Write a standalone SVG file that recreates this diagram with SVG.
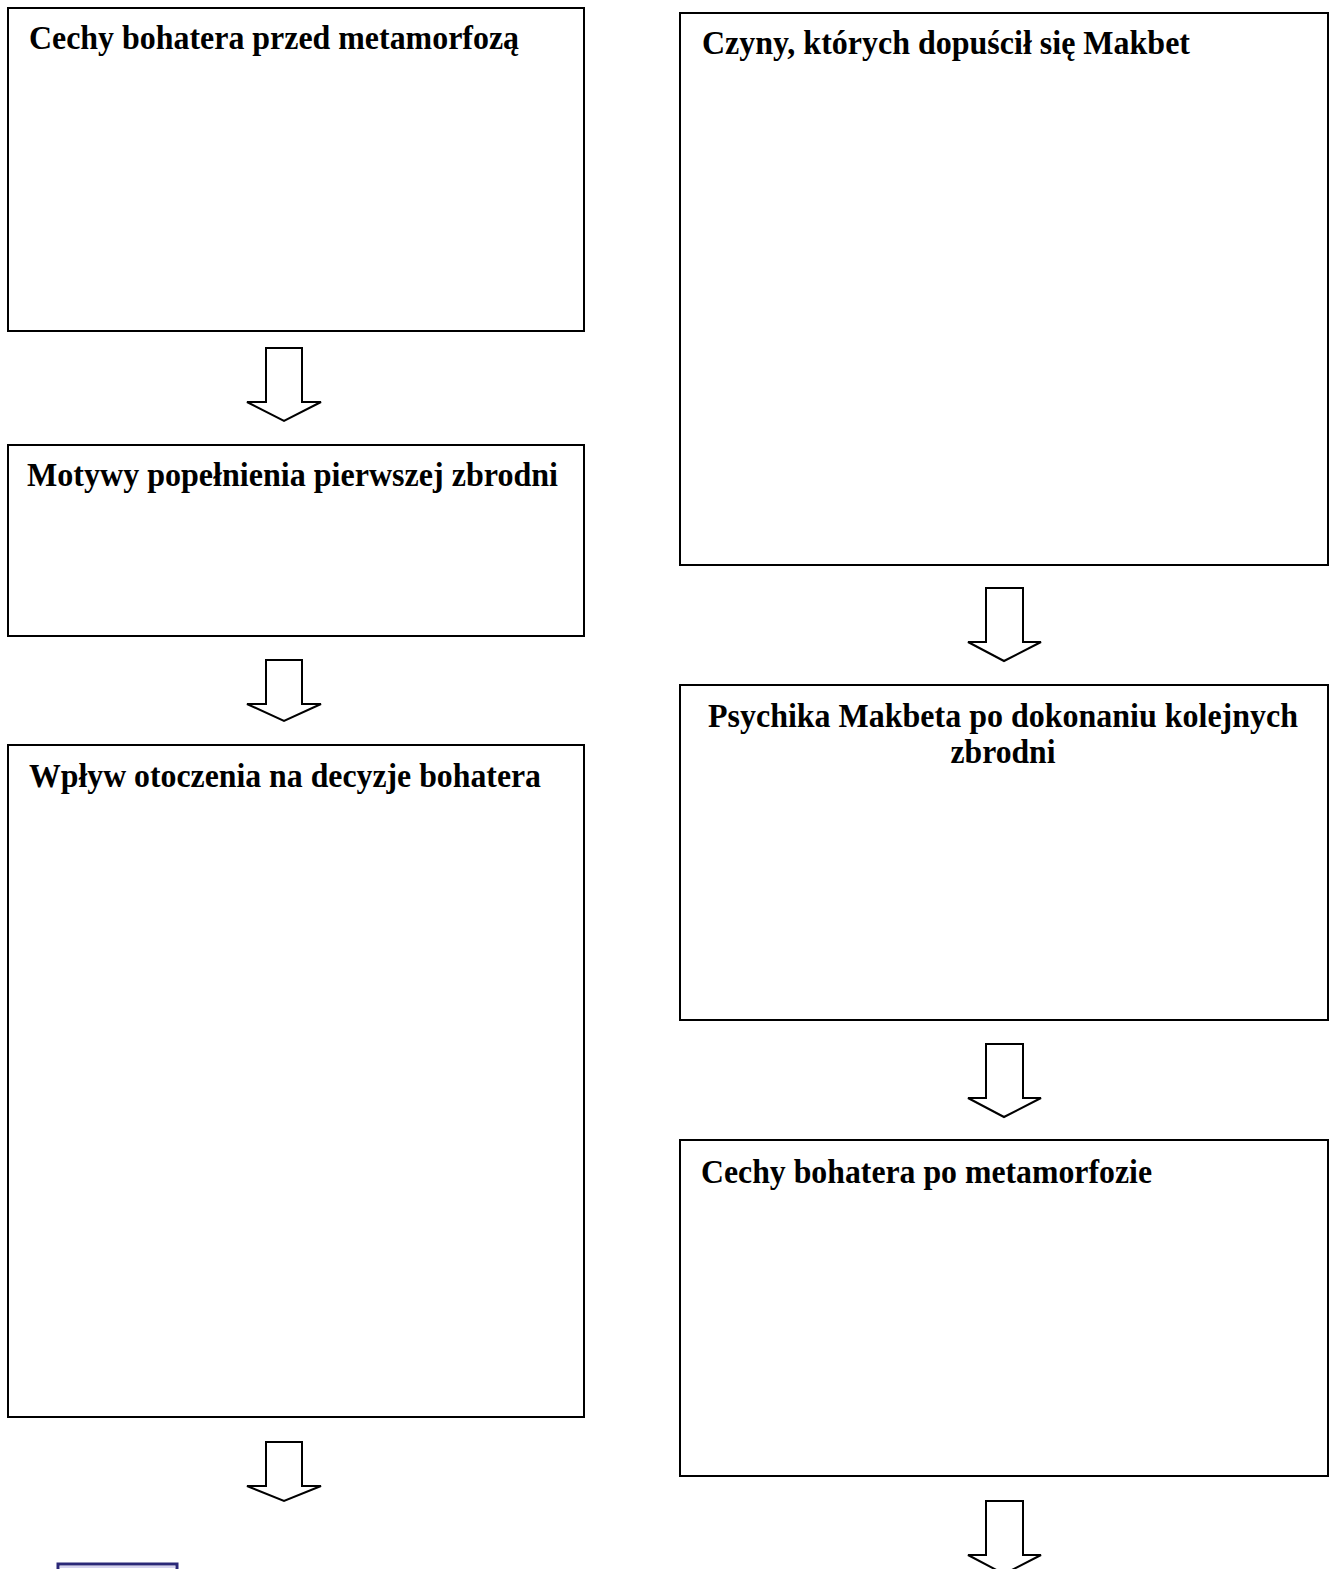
<svg xmlns="http://www.w3.org/2000/svg" width="1331" height="1569" viewBox="0 0 1331 1569">
<style>
.box{fill:#fff;stroke:#000;stroke-width:2}
.arr{fill:#fff;stroke:#000;stroke-width:2;stroke-linejoin:miter}
.t{font-family:"Liberation Serif","Times New Roman",serif;font-weight:bold;font-size:33px;fill:#000}
</style>
<rect width="1331" height="1569" fill="#fff"/>
<g id="node-cechy-przed">
<rect class="box" x="8" y="8" width="576" height="323"/>
<text class="t" x="29" y="49" textLength="490" lengthAdjust="spacingAndGlyphs">Cechy bohatera przed metamorfozą</text>
</g>
<g id="node-motywy">
<rect class="box" x="8" y="445" width="576" height="191"/>
<text class="t" x="27" y="486" textLength="531" lengthAdjust="spacingAndGlyphs">Motywy popełnienia pierwszej zbrodni</text>
</g>
<g id="node-wplyw">
<rect class="box" x="8" y="745" width="576" height="672"/>
<text class="t" x="29" y="787" textLength="512" lengthAdjust="spacingAndGlyphs">Wpływ otoczenia na decyzje bohatera</text>
</g>
<g id="node-czyny">
<rect class="box" x="680" y="13" width="648" height="552"/>
<text class="t" x="702" y="54" textLength="488" lengthAdjust="spacingAndGlyphs">Czyny, których dopuścił się Makbet</text>
</g>
<g id="node-psychika">
<rect class="box" x="680" y="685" width="648" height="335"/>
<text class="t" x="1003" y="727" text-anchor="middle" textLength="590" lengthAdjust="spacingAndGlyphs">Psychika Makbeta po dokonaniu kolejnych</text>
<text class="t" x="1003" y="763" text-anchor="middle" textLength="105" lengthAdjust="spacingAndGlyphs">zbrodni</text>
</g>
<g id="node-cechy-po">
<rect class="box" x="680" y="1140" width="648" height="336"/>
<text class="t" x="701" y="1183" textLength="451" lengthAdjust="spacingAndGlyphs">Cechy bohatera po metamorfozie</text>
</g>
<g id="node-small">
<rect x="58" y="1564" width="119" height="20" fill="#fff" stroke="#2b2878" stroke-width="3"/>
<line x1="60" y1="1567" x2="175" y2="1567" stroke="#c9c5ea" stroke-width="1.5"/>
</g>
<g id="connectors">
<polygon class="arr" points="266,348 302,348 302,402 321,402 284,421 247,402 266,402"/>
<polygon class="arr" points="266,660 302,660 302,704 321,704 284,721 247,704 266,704"/>
<polygon class="arr" points="266,1442 302,1442 302,1486 321,1486 284,1501 247,1486 266,1486"/>
<polygon class="arr" points="986,588 1023,588 1023,642 1041,642 1004,661 968,642 986,642"/>
<polygon class="arr" points="986,1044 1023,1044 1023,1098 1041,1098 1004,1117 968,1098 986,1098"/>
<polygon class="arr" points="986,1501 1023,1501 1023,1555 1041,1555 1004,1574 968,1555 986,1555"/>
</g>
</svg>
